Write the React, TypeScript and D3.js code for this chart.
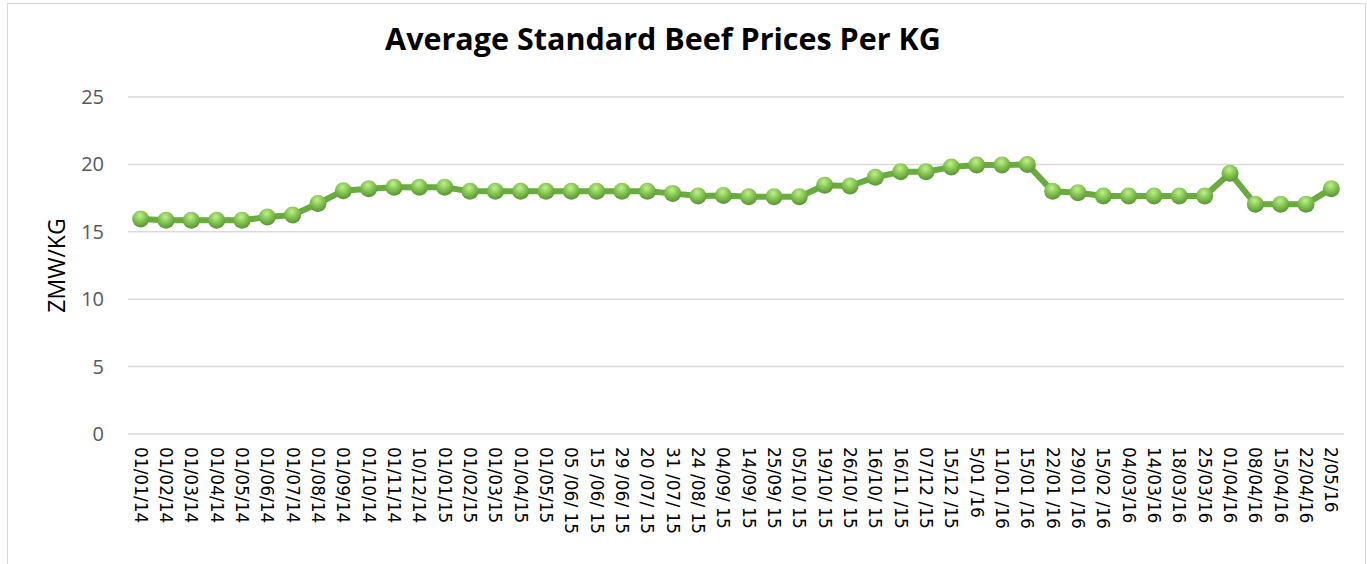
import React from 'react'
import * as d3 from 'd3'

const dates = [
  '01/01/14', '01/02/14', '01/03/14', '01/04/14', '01/05/14', '01/06/14', '01/07/14', '01/08/14',
  '01/09/14', '01/10/14', '01/11/14', '10/12/14', '01/01/15', '01/02/15', '01/03/15', '01/04/15',
  '01/05/15', '05 /06/ 15', '15 /06/ 15', '29 /06/ 15', '20 /07/ 15', '31 /07/ 15', '24 /08/ 15',
  '04/09/ 15', '14/09/ 15', '25/09/ 15', '05/10/ 15', '19/10/ 15', '26/10/ 15', '16/10/ 15',
  '16/11 /15', '07/12 /15', '15/12 /15', '5/01 /16', '11/01 /16', '15/01 /16', '22/01 /16',
  '29/01 /16', '15/02 /16', '04/03/16', '14/03/16', '18/03/16', '25/03/16', '01/04/16',
  '08/04/16', '15/04/16', '22/04/16', '2/05/16'
]

const prices = [
  15.95, 15.85, 15.85, 15.85, 15.85, 16.1, 16.25, 17.1,
  18.05, 18.2, 18.3, 18.3, 18.3, 18.0, 18.0, 18.0,
  18.0, 18.0, 18.0, 18.0, 18.0, 17.85, 17.65,
  17.7, 17.6, 17.6, 17.6, 18.45, 18.4, 19.05,
  19.45, 19.45, 19.8, 19.95, 19.95, 20.0, 18.0,
  17.9, 17.65, 17.65, 17.65, 17.65, 17.65, 19.35,
  17.05, 17.05, 17.05, 18.2
]

const yTicks = [0, 5, 10, 15, 20, 25]

const W = 1367
const H = 564
const plot = { left: 128, right: 1344, top: 97, bottom: 434 }

export default function App() {
  const x = d3.scaleBand<string>().domain(dates).range([plot.left, plot.right])
  const y = d3.scaleLinear().domain([0, 25]).range([plot.bottom, plot.top])
  const cx = (d: string) => (x(d) ?? 0) + x.bandwidth() / 2

  const line = d3.line<number>()
    .x((_, i) => cx(dates[i]))
    .y(d => y(d))

  return (
    <svg width={W} height={H} style={{ position: 'absolute', left: 0, top: 0, background: '#fff' }}>
      <defs>
        <radialGradient id="bead" cx="0.45" cy="0.3" r="0.75">
          <stop offset="0" stopColor="#c2ef8c" />
          <stop offset="0.45" stopColor="#86c654" />
          <stop offset="1" stopColor="#4f8c2a" />
        </radialGradient>
      </defs>
      <rect x={7.5} y={3.5} width={1358} height={620} fill="#fff" stroke="#d9d9d9" />

      <text x={663} y={50} textAnchor="middle" fontFamily="Open Sans" fontWeight={700} fontSize={30.5} fill="#000">
        Average Standard Beef Prices Per KG
      </text>

      {yTicks.map(t => (
        <g key={t}>
          <line x1={plot.left} x2={plot.right} y1={y(t)} y2={y(t)} stroke="#d9d9d9" strokeWidth={1.5} />
          <text x={104} y={y(t)} dy="0.35em" textAnchor="end" fontFamily="Open Sans" fontSize={20} fill="#595959">
            {t}
          </text>
        </g>
      ))}

      <text
        transform={`translate(57,${(plot.top + plot.bottom) / 2}) rotate(-90)`}
        textAnchor="middle" dy="0.35em" fontFamily="Open Sans" fontSize={23} fill="#000"
      >
        ZMW/KG
      </text>

      {dates.map(d => (
        <text
          key={d}
          transform={`translate(${cx(d)},447) rotate(90)`}
          dy="0.35em" fontFamily="DejaVu Sans" fontSize={17} fill="#000"
        >
          {d}
        </text>
      ))}

      <path d={line(prices) ?? ''} fill="none" stroke="#6aab3f" strokeWidth={6} strokeLinejoin="round" />

      {prices.map((v, i) => (
        <circle key={i} cx={cx(dates[i])} cy={y(v)} r={8.5} fill="url(#bead)" />
      ))}
    </svg>
  )
}
